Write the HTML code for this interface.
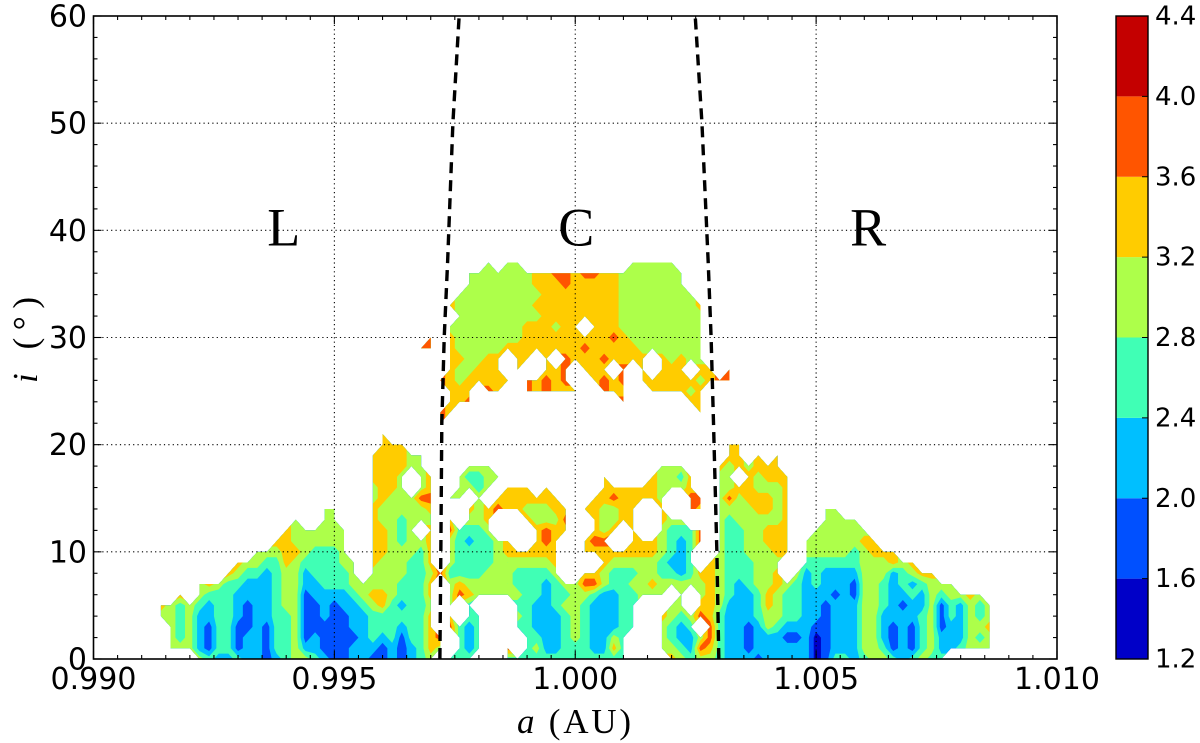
<!DOCTYPE html>
<html lang="en">
<head>
<meta charset="utf-8">
<title>Inclination versus semi-major axis contour map</title>
<style>
html,body{margin:0;padding:0;background:#fff;width:1200px;height:743px;overflow:hidden}
svg{display:block}
text{fill:#000}
</style>
</head>
<body>
<svg id="chart" xmlns="http://www.w3.org/2000/svg" width="1200" height="743" viewBox="0 0 1200 743"></svg>
<script>
const xTicks = [0.990, 0.995, 1.000, 1.005, 1.010];
const xTickLabels = ['0.990', '0.995', '1.000', '1.005', '1.010'];
const yTicks = [0, 10, 20, 30, 40, 50, 60];
const levels = [12, 16, 20, 24, 28, 32, 36, 40, 44];
const levelLabels = ['1.2', '1.6', '2.0', '2.4', '2.8', '3.2', '3.6', '4.0', '4.4'];
const bandColors = ['#0000c8', '#0050ff', '#00bfff', '#40ffb5', '#adff4a', '#ffcc00', '#ff5500', '#c40000'];
const regionNames = ['L', 'C', 'R'];
const regionA = [0.99395, 1.00002, 1.00608];
const regionI = [38.6, 38.6, 38.6];
const boundaryI = [0, 10, 22, 30, 37, 50, 60];
const leftBoundaryA = [0.99719, 0.99721, 0.99723, 0.99728, 0.99735, 0.99746, 0.99759];
const rightBoundaryA = [1.00298, 1.00294, 1.00287, 1.00282, 1.00276, 1.00263, 1.00249];
const gridFirstA = 0.9914;
const gridStepA = 0.0002;
const gap = n => new Array(n).fill(0);

const row00 = [0,0,0,0,30,26,22,22,26,22,22,18,22,26,30,30,26,22,18,18,22,22,18,18,22,18,22,26,30, 0,26,26,26,0,26,0,26,26,26,26,26,26,26,26,26,26,26,26,26,0,0,0,0,34,30,26,30,30, 26,22,22,22,18,22,22,22,22,22,14,18,26,26,22,26,30,30,26,22,26,30,26,26];
const row01 = [0,30,30,30,22,18,26,26,18,22,22,18,26,26,30,22,22,18,18,18,22,22,22,18,22,18,22,26,34, 30,0,26,22,26,0,0,38,0,26,30,22,22,26,26,26,22,22,34,26,0,0,0,30,30,26,22,38,34, 26,22,22,18,22,22,22,22,22,22,14,18,22,22,22,30,30,26,18,22,18,26,30,22,22,26,30,30,30];
const row02 = [0,30,26,30,22,18,26,26,18,22,22,18,26,26,30,18,22,18,18,18,18,22,26,22,26,18,26,26,34, 38,0,26,22,26,0,0,0,0,26,26,22,22,26,30,26,22,22,30,26,0,0,0,30,26,22,22,30,38, 26,22,22,18,22,22,22,18,18,22,14,18,22,22,22,30,30,22,18,22,18,26,30,22,22,22,30,26,30];
const row03 = [0,30,26,30,22,18,26,26,18,18,22,18,26,26,30,18,18,18,18,18,22,22,26,26,26,22,26,26,34, 0,38,26,22,26,0,0,0,26,26,22,22,22,26,30,26,22,22,22,26,26,0,0,30,26,22,26,0,38, 26,22,22,18,22,30,26,22,22,22,18,18,22,22,22,30,30,22,18,22,18,26,30,18,22,22,30,30,34];
const row04 = [30,30,26,30,22,22,26,26,22,18,22,22,26,26,30,18,18,22,18,18,22,22,26,26,26,26,26,26,34, 0,34,0,26,26,0,0,0,30,26,22,22,22,26,30,26,22,22,22,26,26,0,0,34,30,26,30,38,34, 26,22,22,22,26,30,30,26,26,22,22,18,22,22,22,30,30,22,22,22,22,26,30,18,26,22,30,26,30];
const row05 = [34,30,26,30,26,22,26,26,22,18,22,22,26,30,30,18,18,22,18,22,22,26,30,34,26,22,26,26,30, 0,30,0,26,0,0,0,0,26,26,22,22,26,30,30,26,22,22,22,26,26,0,0,0,30,30,0,34,34, 30,22,22,22,26,34,30,26,26,22,22,18,22,22,22,30,30,26,22,18,22,22,30,18,26,22,30,26,30];
const row06 = [0,0,34,0,30,26,26,26,22,22,22,22,26,30,30,18,22,22,22,22,26,30,34,34,30,26,26,26,34, 0,30,38,34,30,30,30,30,30,26,26,22,26,26,30,30,26,22,22,26,26,30,30,30,0,30,0,30,34, 30,26,22,22,26,34,30,26,26,22,22,22,18,22,18,30,30,26,22,22,26,22,30,26,30,30,34,30];
const row07 = [0,0,0,0,30,34,30,26,26,22,22,22,26,30,30,22,22,26,26,26,30,30,30,30,30,26,26,26,34, 0,30,34,30,30,30,30,30,26,26,26,22,26,30,30,38,38,30,26,26,30,30,34,30,30,30,30,30,34, 30,26,22,26,30,30,34,30,26,22,26,22,22,22,18,30,30,26,22,26,22,26,30,30,30];
const row08 = [...gap(7),34,30,26,26,22,26,30,30,22,26,26,26,26,30,0,30,30,30,30,26,26,30, 38,26,26,26,26,30,30,30,26,26,26,26,30,0,0,34,34,30,26,26,26,30,30,26,26,22,26,34,34, 30,26,26,26,30,30,34,0,30,22,26,22,22,22,22,30,30,30,22,26,30,34,34];
const row09 = [...gap(8),34,30,30,26,26,34,30,26,26,26,26,30,30,0,34,30,30,30,26,26,34, 0,30,26,26,26,26,30,30,30,30,30,30,34,0,0,0,0,34,30,30,30,30,30,26,22,22,26,0,34, 30,26,26,26,30,30,30,0,0,26,26,26,26,26,26,30,30,30,34,30,34];
const row10 = [...gap(10),30,30,30,34,34,30,26,26,26,30,0,0,34,34,30,30,30,26,34, 0,30,26,26,26,26,30,34,34,34,34,34,34,0,0,34,34,34,34,34,34,34,34,30,26,22,26,0,0, 30,26,26,30,30,30,34,34,0,30,30,30,30,30,26,30,34,34,34];
const row11 = [...gap(12),34,34,30,30,30,30,30,30,0,0,34,34,30,26,30,30,34, 0,30,26,22,26,26,30,34,0,0,34,38,34,0,0,34,38,38,0,0,34,34,34,30,26,22,26,38,0, 30,26,26,30,30,34,34,34,0,30,30,30,30,30,30,34,34];
const row12 = [...gap(13),34,30,30,30,30,30,30,0,0,34,34,30,26,30,0,34, 0,38,26,26,26,30,0,0,34,0,34,38,34,34,0,0,34,30,34,0,34,0,0,30,26,26,26,38,0, 30,26,26,30,30,34,34,34,0,0,30,30,30,30,30,30];
const row13 = [...gap(14),30,0,0,30,30,0,0,0,34,30,30,26,30,30,30, 0,34,0,30,30,34,0,0,0,34,30,30,30,38,0,0,34,30,30,34,34,0,0,34,30,30,0,0,0, 30,26,30,30,30,30,30,34,0,0,0,30,30,30,30];
const row14 = [...gap(17),30,30,0,0,0,34,30,30,30,30,30,34, 0,0,0,34,30,34,38,34,34,30,30,30,34,34,0,34,34,30,30,34,34,0,0,34,0,0,38,34,0, 30,30,30,30,34,34,30,34,0,0,0,30,30];
const row15 = [...gap(22),30,34,30,30,30,38,38, 0,30,30,0,30,0,34,34,34,34,34,34,34,0,0,0,34,34,38,34,34,34,34,30,0,0,38,38,0, 30,38,30,34,34,34,30,34];
const row16 = [...gap(22),30,34,34,30,0,30,34, 0,0,30,30,26,30,0,34,34,34,0,34,0,0,0,0,0,34,34,34,34,34,34,30,30,30,34,0,0, 30,30,34,34,30,30,30,34];
const row17 = [...gap(22),34,34,34,30,0,30,34, 0,0,30,26,26,30,30,0,0,0,0,0,0,0,0,0,0,34,0,0,0,0,34,30,30,26,34,0,0, 30,30,0,34,30,34,34,34];
const row18 = [...gap(22),34,34,34,34,30,30,0, 0,0,0,30,30,30,...gap(17),30,30,30,0,0,0, 34,30,34,30,34,34,34];
const row19 = [...gap(22),34,34,34,34,30,30,0, ...gap(29), 0,34,34,0,34,0,34];
const row20 = [...gap(23),34,34,34,...gap(33),34,34];
const row21 = [...gap(23),34];
const row22 = [...gap(29),38];
const row23 = [...gap(29),38,34,...gap(25),34];
const row24 = [...gap(30),34,34,38,...gap(15),38,...gap(6),34,34];
const row25 = [...gap(30),34,34,34,0,38,34,0,0,38,34,38,34,34,34,0,0,38,34,34,0,0,34,34,34,34,30,34];
const row26 = [...gap(29),38,34,30,34,34,34,34,34,0,38,34,38,34,38,0,0,34,38,34,38,0,34,34,34,34,34,34,30,34,38,38];
const row27 = [...gap(30),34,30,30,34,34,34,0,34,0,0,34,34,38,0,34,34,34,0,38,0,34,0,34,34,34,0,34,34,0,38];
const row28 = [...gap(30),34,34,30,30,34,34,0,34,34,0,34,0,38,34,34,34,38,34,34,34,34,0,34,30,34,30,30];
const row29 = [...gap(27),38,38,0,34,30,30,30,30,30,34,34,34,34,34,34,34,34,38,34,34,34,34,34,30,30,30,30,30,30,30];
const row30 = [...gap(28),38,0,34,30,30,30,30,30,30,30,34,34,34,34,34,34,34,34,34,38,34,30,30,30,30,30,30,30,30];
const row31 = [...gap(30),30,30,30,30,30,30,30,30,34,34,34,30,34,34,0,34,34,34,30,30,30,30,30,30,30,30,30];
const row32 = [...gap(31),30,30,30,30,30,30,30,30,30,34,34,34,34,34,34,34,34,30,30,30,30,30,30,30,30,30];
const row33 = [...gap(30),34,30,30,30,30,30,30,30,30,34,34,34,34,34,34,34,34,34,30,30,30,30,30,30,30,30,34];
const row34 = [...gap(31),30,30,30,30,30,30,30,30,30,34,34,34,34,34,34,34,34,30,30,30,30,30,30,30,30];
const row35 = [...gap(32),30,30,30,30,30,30,30,34,34,34,38,34,34,34,34,34,30,30,30,30,30,30,30];
const row36 = [...gap(32),30,30,30,30,30,30,30,34,34,38,38,34,38,38,34,34,30,30,30,30,30,30,30];
const row37 = [...gap(34),30,0,30,30,...gap(11),30,30,30,30,30];
const rows = [row00,row01,row02,row03,row04,row05,row06,row07,row08,row09,row10,row11,row12,row13,row14,row15,row16,row17,row18,row19,row20,row21,row22,row23,row24,row25,row26,row27,row28,row29,row30,row31,row32,row33,row34,row35,row36,row37];

const NS = 'http://www.w3.org/2000/svg';
const svg = document.getElementById('chart');
const plot = { left: 93.5, right: 1057, top: 16, bottom: 659 };
const xMin = 0.99, xMax = 1.01, yMin = 0, yMax = 60;
const xScale = a => plot.left + (a - xMin) / (xMax - xMin) * (plot.right - plot.left);
const yScale = i => plot.bottom - (i - yMin) / (yMax - yMin) * (plot.bottom - plot.top);
const barScale = v => plot.bottom - (v - levels[0]) / (levels[levels.length - 1] - levels[0]) * (plot.bottom - plot.top);

function make(tag, attrs, parent) {
  const el = document.createElementNS(NS, tag);
  for (const key in attrs) el.setAttribute(key, attrs[key]);
  (parent || svg).appendChild(el);
  return el;
}

function nodeAt(k, j) {
  const v = rows[j][k];
  return { k: k, j: j, v: v };
}

function clipAbove(poly, lo) {
  const out = [];
  for (let n = 0; n < poly.length; n++) {
    const p = poly[n], q = poly[(n + 1) % poly.length];
    const pIn = p.v >= lo, qIn = q.v >= lo;
    if (pIn) out.push(p);
    if (pIn !== qIn) {
      const t = (lo - p.v) / (q.v - p.v);
      out.push({ k: p.k + (q.k - p.k) * t, j: p.j + (q.j - p.j) * t, v: lo });
    }
  }
  return out;
}

function cellPolygons() {
  const polys = [];
  const columnCount = Math.max.apply(null, rows.map(r => r.length));
  for (let j = 0; j < rows.length - 1; j++) {
    for (let k = 0; k < columnCount - 1; k++) {
      const corners = [nodeAt(k, j), nodeAt(k + 1, j), nodeAt(k + 1, j + 1), nodeAt(k, j + 1)];
      const valid = corners.filter(c => c.v > 0);
      if (valid.length >= 3) polys.push(valid);
    }
  }
  return polys;
}

const polys = cellPolygons();
const contourGroup = make('g', {});


bandColors.forEach((color, b) => {
  let d = '';
  polys.forEach(poly => {
    const clipped = clipAbove(poly, levels[b]);
    if (clipped.length < 3) return;
    d += 'M' + clipped.map(p => xScale(gridFirstA + p.k * gridStepA).toFixed(2) + ' ' + yScale(p.j).toFixed(2)).join('L') + 'Z';
  });
  const path = make('path', { d: d, fill: color, stroke: 'none' }, contourGroup);
  
  
});

const gridGroup = make('g', { stroke: '#000', 'stroke-width': 1.1, 'stroke-dasharray': '1.2 3.2', fill: 'none' });


xTicks.slice(1, -1).forEach(a => {
  make('line', { x1: xScale(a), x2: xScale(a), y1: plot.top, y2: plot.bottom }, gridGroup);
});
yTicks.slice(1, -1).forEach(i => {
  make('line', { x1: plot.left, x2: plot.right, y1: yScale(i), y2: yScale(i) }, gridGroup);
});

function boundaryPath(values) {
  return values.map((a, n) => (n ? 'L' : 'M') + xScale(a).toFixed(2) + ' ' + yScale(boundaryI[n]).toFixed(2)).join('');
}
const leftLine = make('path', { d: boundaryPath(leftBoundaryA), fill: 'none', stroke: '#000', 'stroke-width': 3.4, 'stroke-dasharray': '11 7' });


const rightLine = make('path', { d: boundaryPath(rightBoundaryA), fill: 'none', stroke: '#000', 'stroke-width': 3.4, 'stroke-dasharray': '11 7' });



const frame = make('rect', { x: plot.left, y: plot.top, width: plot.right - plot.left, height: plot.bottom - plot.top, fill: 'none', stroke: '#000', 'stroke-width': 1.6 });



const tickGroup = make('g', { stroke: '#000', 'stroke-width': 1.1 });


for (let n = 0; n <= 40; n++) {
  const a = xMin + n * 0.0005;
  const len = n % 10 === 0 ? 8 : 4;
  make('line', { x1: xScale(a), x2: xScale(a), y1: plot.bottom, y2: plot.bottom - len }, tickGroup);
  make('line', { x1: xScale(a), x2: xScale(a), y1: plot.top, y2: plot.top + len }, tickGroup);
}
for (let n = 0; n <= 30; n++) {
  const i = n * 2;
  const len = n % 5 === 0 ? 8 : 4;
  make('line', { x1: plot.left, x2: plot.left + len, y1: yScale(i), y2: yScale(i) }, tickGroup);
  make('line', { x1: plot.right, x2: plot.right - len, y1: yScale(i), y2: yScale(i) }, tickGroup);
}

const sansFont = '"DejaVu Sans", "Liberation Sans", sans-serif';
const serifFont = '"Liberation Serif", serif';
xTicks.forEach((a, n) => {
  const t = make('text', { x: xScale(a), y: 689, 'text-anchor': 'middle', 'font-family': sansFont, 'font-size': 30 });
  t.textContent = xTickLabels[n];
  
  
});
yTicks.forEach(i => {
  const t = make('text', { x: 87, y: yScale(i) + 10.5, 'text-anchor': 'end', 'font-family': sansFont, 'font-size': 30 });
  t.textContent = String(i);
  
  
});

regionNames.forEach((name, n) => {
  const t = make('text', { x: xScale(regionA[n]), y: yScale(regionI[n]), 'text-anchor': 'middle', 'font-family': serifFont, 'font-size': 54 });
  t.textContent = name;
  
  
});

const xTitle = make('text', { x: 517, y: 733, 'font-family': serifFont, 'font-size': 35, textLength: 114, lengthAdjust: 'spacing' });


const xTitleVar = make('tspan', { 'font-style': 'italic' }, xTitle);
xTitleVar.textContent = 'a';
xTitle.appendChild(document.createTextNode(' (AU)'));

const yTitle = make('text', { x: 0, y: 0, transform: 'translate(37 383) rotate(-90)', 'font-family': serifFont, 'font-size': 35, textLength: 86, lengthAdjust: 'spacing' });


const yTitleVar = make('tspan', { 'font-style': 'italic' }, yTitle);
yTitleVar.textContent = 'i';
yTitle.appendChild(document.createTextNode(' (°)'));

const bar = { left: 1116, right: 1148 };
const barGroup = make('g', {});


bandColors.forEach((color, b) => {
  const y1 = barScale(levels[b + 1]), y2 = barScale(levels[b]);
  const r = make('rect', { x: bar.left, y: y1, width: bar.right - bar.left, height: y2 - y1, fill: color }, barGroup);
  
  
});
const barFrame = make('rect', { x: bar.left, y: plot.top, width: bar.right - bar.left, height: plot.bottom - plot.top, fill: 'none', stroke: '#000', 'stroke-width': 1.4 }, barGroup);


levels.forEach((lev, n) => {
  const y = barScale(lev);
  const tick = make('line', { x1: bar.right - 6, x2: bar.right, y1: y, y2: y, stroke: '#000', 'stroke-width': 1 }, barGroup);
  
  
  const t = make('text', { x: 1155, y: y + 8.5, 'font-family': sansFont, 'font-size': 26 }, barGroup);
  t.textContent = levelLabels[n];
  
  
});
</script>
</body>
</html>
